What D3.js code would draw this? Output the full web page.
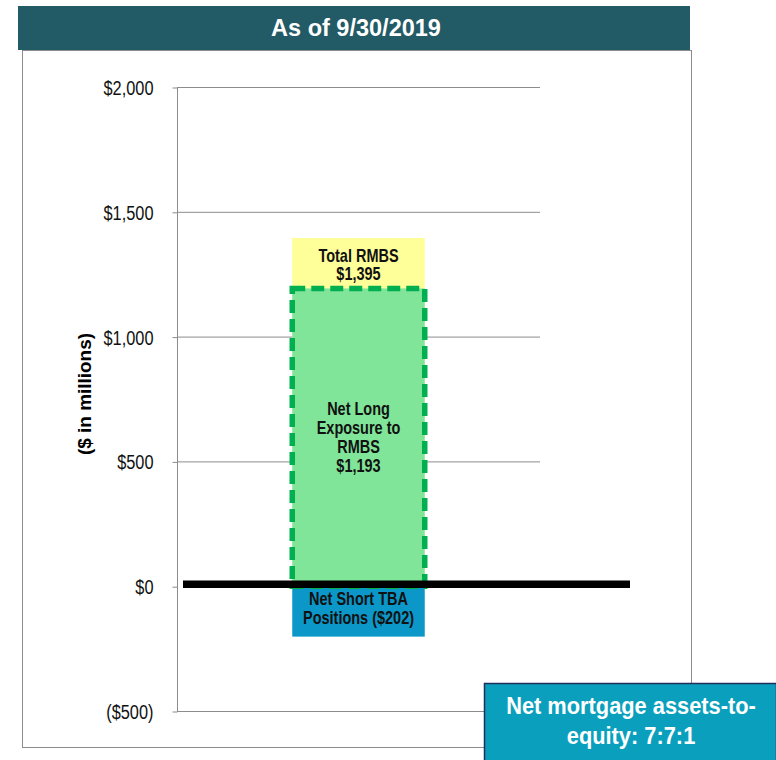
<!DOCTYPE html>
<html>
<head>
<meta charset="utf-8">
<script src="https://cdn.jsdelivr.net/npm/d3@7"></script>
<style>
  html, body { margin: 0; padding: 0; background: #fff; }
  svg { display: block; }
</style>
</head>
<body>
<svg id="chart" width="776" height="760"></svg>
<script>
// Portfolio composition, $ in millions
const categories = ["RMBS"];
const totalRmbs = [1395];
const netLong = [1193];
const netShortTba = [-202];
const yTicks = [-500, 0, 500, 1000, 1500, 2000];
const yTickLabels = ["($500)", "$0", "$500", "$1,000", "$1,500", "$2,000"];
const titleText = "As of 9/30/2019";
const ratioText = ["Net mortgage assets-to-", "equity: 7:7:1"];

const BOLD = "Liberation Sans, Arial, sans-serif";
const svg = d3.select("#chart");

// Draws one line of text centred/anchored at (x, y), horizontally condensed by sx
function condensed(parent, str, x, y, size, sx, opts = {}) {
  return parent.append("text")
    .attr("transform", `translate(${x},${y}) scale(${sx},1)`)
    .attr("text-anchor", opts.anchor || "middle")
    .attr("font-family", BOLD)
    .attr("font-weight", opts.weight || "bold")
    .attr("font-size", size)
    .attr("fill", opts.fill || "#111")
    .text(str);
}
// Horizontal squeeze that makes `str` at `size` span `width` pixels
function squeeze(str, size, width, weight = "bold") {
  const t = svg.append("text").attr("font-family", BOLD).attr("font-weight", weight)
    .attr("font-size", size).text(str);
  const w = t.node().getComputedTextLength();
  t.remove();
  return width / w;
}

// Title bar and frame
svg.append("rect").attr("x", 18).attr("y", 6).attr("width", 672).attr("height", 44).attr("fill", "#225a66");
condensed(svg, titleText, 356, 36, 23, squeeze(titleText, 23, 170), { fill: "#fff" });
svg.append("rect").attr("x", 22.5).attr("y", 50.5).attr("width", 669).attr("height", 697)
  .attr("fill", "none").attr("stroke", "#8c8c8c").attr("stroke-width", 1);

const axisX = 177;
const y = d3.scaleLinear().domain([-500, 2000]).range([711, 87]);
const x = d3.scaleBand().domain(categories).range([axisX, 540]).paddingOuter(0.87).paddingInner(0);

// Gridlines
svg.append("g").selectAll("line").data(yTicks.filter(d => d !== 0)).join("line")
  .attr("x1", axisX).attr("x2", 540).attr("y1", d => y(d) + 0.5).attr("y2", d => y(d) + 0.5)
  .attr("stroke", "#8c8c8c").attr("stroke-width", 1);

// Y axis (line + ticks from d3, labels drawn condensed)
const yAxis = d3.axisLeft(y).tickValues(yTicks).tickSize(5).tickFormat("");
const ag = svg.append("g").attr("transform", `translate(${axisX + 0.5},0.5)`).call(yAxis);
ag.select(".domain").attr("stroke", "#8c8c8c").attr("d", `M0,${y(2000)}V${y(-500)}`);
ag.selectAll(".tick line").attr("stroke", "#8c8c8c");
const tickSx = squeeze("$2,000", 19.5, 50, "normal");
ag.selectAll(".tick").each(function (d) {
  const i = yTicks.indexOf(d);
  condensed(d3.select(this), yTickLabels[i], -24, 7, 19.5, tickSx, { anchor: "end", weight: "normal" });
});

const yLabel = "($ in millions)";
svg.append("text")
  .attr("transform", `translate(91,394) rotate(-90) scale(${squeeze(yLabel, 18, 122)},1)`)
  .attr("text-anchor", "middle").attr("font-family", BOLD).attr("font-weight", "bold")
  .attr("font-size", 18).attr("fill", "#000").text(yLabel);

const bx = x(categories[0]);
const bw = x.bandwidth();

// Total RMBS (yellow)
svg.append("g").selectAll("rect").data(totalRmbs).join("rect")
  .attr("x", bx).attr("width", bw).attr("y", d => y(d)).attr("height", d => y(0) - y(d))
  .attr("fill", "#ffff99");

// Net short TBA (blue)
svg.append("g").selectAll("rect").data(netShortTba).join("rect")
  .attr("x", bx).attr("width", bw).attr("y", y(0)).attr("height", d => y(d) - y(0))
  .attr("fill", "#0b97c8");

// Net long exposure (green, dashed outline)
svg.append("g").selectAll("rect").data(netLong).join("rect")
  .attr("x", bx).attr("width", bw).attr("y", d => y(d)).attr("height", d => y(0) - y(d))
  .attr("fill", "#80e598").attr("stroke", "#00b050").attr("stroke-width", 5.5)
  .attr("stroke-dasharray", "13,6");

// Zero line
svg.append("line").attr("x1", 183).attr("x2", 630).attr("y1", y(0) - 2).attr("y2", y(0) - 2)
  .attr("stroke", "#000").attr("stroke-width", 7.5);

// Bar labels
const cx = bx + bw / 2;
const labSize = 18;
const labSx = squeeze("Net Short TBA", labSize, 99);
const fmt = v => "$" + d3.format(",")(Math.abs(v));
function label(lines, y0, lh) {
  lines.forEach((s, i) => condensed(svg, s, cx, y0 + i * lh, labSize, labSx));
}
label(["Total RMBS", fmt(totalRmbs[0])], y(totalRmbs[0]) + 24, 18);
label(["Net Long", "Exposure to", "RMBS", fmt(netLong[0])], 415, 19);
label(["Net Short TBA", `Positions (${fmt(netShortTba[0])})`], y(0) + 19, 19);

// Leverage callout
svg.append("rect").attr("x", 484.5).attr("y", 683.5).attr("width", 292).attr("height", 80)
  .attr("fill", "#0aa0bd").attr("stroke", "#1f2f5c").attr("stroke-width", 1.5);
const ctSx = squeeze(ratioText[0], 23, 250);
ratioText.forEach((s, i) => condensed(svg, s, 631, 714 + i * 30, 23, ctSx, { fill: "#fff" }));
</script>
</body>
</html>
